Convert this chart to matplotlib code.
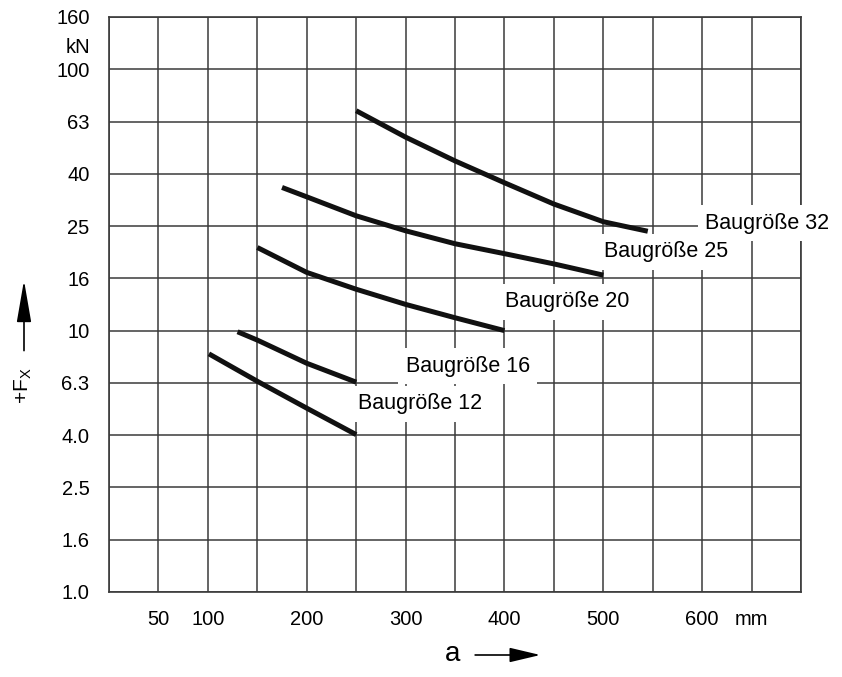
import numpy as np
import matplotlib.pyplot as plt
from matplotlib.patches import FancyArrowPatch

plt.rcParams['font.family'] = ['Liberation Sans', 'DejaVu Sans']

# curves: a in mm, +Fx in kN
a_32 = [250, 300, 350, 400, 450, 500, 545]
f_32 = [69.4, 55.0, 44.6, 36.8, 30.5, 26.1, 24.0]
a_25 = [175, 200, 250, 300, 350, 400, 450, 500]
f_25 = [35.3, 32.5, 27.5, 24.1, 21.5, 19.7, 18.0, 16.3]
a_20 = [150, 200, 250, 300, 350, 400]
f_20 = [20.8, 16.7, 14.4, 12.6, 11.2, 10.0]
a_16 = [130, 150, 200, 250]
f_16 = [9.9, 9.2, 7.5, 6.35]
a_12 = [101, 150, 200, 250]
f_12 = [8.15, 6.4, 5.05, 4.0]

labels = ['Baugröße 32', 'Baugröße 25', 'Baugröße 20', 'Baugröße 16', 'Baugröße 12']
label_a = [603, 501, 401, 300, 252]
label_f = [25.8, 20.0, 12.9, 7.3, 5.25]

y_ticks = [10 ** (k / 5) for k in range(12)]
y_ticklabels = ['1.0', '1.6', '2.5', '4.0', '6.3', '10', '16', '25', '40', '63', '100', '160']
x_ticks = list(range(0, 701, 50))
x_ticklabels = ['', '50', '100', '', '200', '', '300', '', '400', '', '500', '', '600', 'mm', '']

fig = plt.figure(figsize=(8.42, 6.77), dpi=100)
ax = fig.add_axes([0.1295, 0.1256, 0.8218, 0.8493])

gc = '#3a3a3a'
ax.set_yscale('log')
ax.set_xlim(0, 700)
ax.set_ylim(1, 10 ** 2.2)
ax.set_yticks(y_ticks)
ax.set_yticklabels(y_ticklabels)
ax.yaxis.set_minor_locator(plt.NullLocator())
ax.set_xticks(x_ticks)
ax.set_xticklabels(x_ticklabels)
ax.tick_params(length=0, labelsize=14.5, colors='black')
ax.tick_params(axis='y', pad=14)
ax.tick_params(axis='x', pad=13)
ax.grid(True, color=gc, lw=1.1)
for s in ax.spines.values():
    s.set_color(gc)
    s.set_linewidth(1.2)
ax.set_axisbelow(True)

for xs, ys in [(a_32, f_32), (a_25, f_25), (a_20, f_20), (a_16, f_16), (a_12, f_12)]:
    ax.plot(xs, ys, color='#111111', lw=3.6, solid_capstyle='butt',
            solid_joinstyle='round', zorder=3)

for t, xa, ya in zip(labels, label_a, label_f):
    ax.text(xa, ya, t, fontsize=15.5, va='center', ha='left', zorder=4, clip_on=False,
            bbox=dict(boxstyle='square,pad=0.35', facecolor='white', edgecolor='none'))

ax.text(-0.0275, 121, 'kN', transform=ax.get_yaxis_transform(), ha='right', va='center',
        fontsize=14.5)

# axis captions with arrows
fig.text(0.027, 0.43, '+F$_\\mathregular{X}$', rotation=90, ha='center', va='center', fontsize=15)
fig.patches.append(FancyArrowPatch((0.0285, 0.478), (0.0285, 0.590), transform=fig.transFigure,
                                   arrowstyle='-|>,head_length=2.6,head_width=0.45',
                                   mutation_scale=10, color='black', lw=1.2))
fig.text(0.538, 0.034, 'a', ha='center', va='center', fontsize=20)
fig.patches.append(FancyArrowPatch((0.561, 0.0325), (0.645, 0.0325), transform=fig.transFigure,
                                   arrowstyle='-|>,head_length=1.9,head_width=0.45',
                                   mutation_scale=10, color='black', lw=1.2))

fig.savefig('out.png', dpi=100)
